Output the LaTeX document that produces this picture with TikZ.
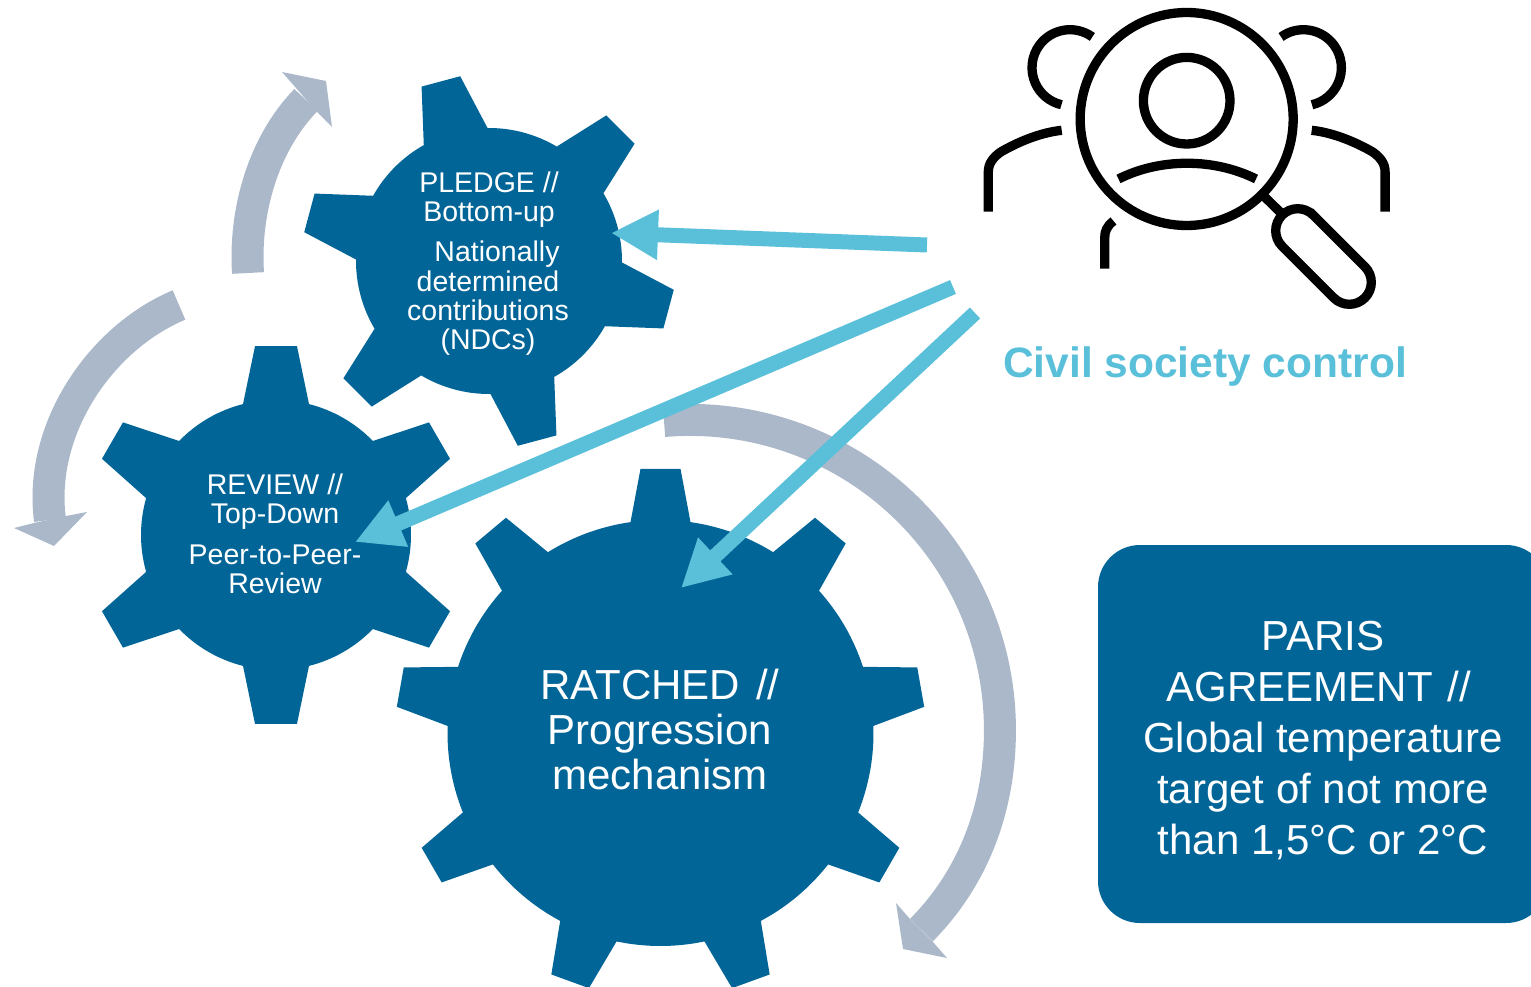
\documentclass[tikz,border=0pt]{standalone}
\usepackage{fontspec}
\setmainfont{Liberation Sans}
\usetikzlibrary{arrows.meta}
\definecolor{gearblue}{HTML}{026597}
\definecolor{arcgrey}{HTML}{ABB8C9}
\definecolor{lightblue}{HTML}{5AC0DA}
\tikzset{
	gearfill/.style={fill=gearblue},
	geartext/.style={text=white, align=center, inner sep=0pt, font=\fontsize{28.5}{29}\selectfont},
	ratchedtext/.style={text=white, align=center, inner sep=0pt, font=\fontsize{42}{45}\selectfont},
	greyband/.style={draw=arcgrey, line width=32pt},
	greyhead/.style={fill=arcgrey},
	bluearrow/.style={draw=lightblue, line width=15pt, -{Triangle[length=47pt,width=47pt,fill=lightblue]}},
	iconline/.style={draw=black, line width=9.3pt}
}
% #1,#2 centre, #3 body radius, #4 tip radius, #5 teeth, #6 first tooth, #7 base half, #8 tip half
\newcommand{\gearwheel}[8]{
	\pgfmathsetmacro{\baseang}{asin(#7/#3)}
	\pgfmathsetmacro{\tipang}{asin(#8/#4)}
	\pgfmathsetmacro{\gearstep}{360/#5}
	\pgfmathtruncatemacro{\lastk}{#5-1}
	\begin{scope}[shift={(#1,-#2)}]
		\fill[gearfill] ({#6+\baseang}:#3) \foreach \k [evaluate=\k as \a using #6-\k*\gearstep] in {0,...,\lastk} {
			-- ({\a+\baseang}:#3) -- ({\a+\tipang}:#4) -- ({\a-\tipang}:#4) -- ({\a-\baseang}:#3)
			arc[start angle=\a-\baseang, end angle=\a-\gearstep+\baseang, radius=#3pt]
		} -- cycle;
	\end{scope}
}
\begin{document}
\begin{tikzpicture}[x=1pt,y=1pt]
	\useasboundingbox (0,0) rectangle (1531,-987);
	\clip (0,0) rectangle (1531,-987);

	\gearwheel{489}{261}{133}{187}{6}{105}{33}{20}
	\gearwheel{276}{535}{135}{190}{6}{90}{33}{21}
	\gearwheel{660.5}{733}{213}{265}{9}{90}{30}{20}

	\draw[greyband] (248,-273) .. controls (244,-210) and (264,-143) .. (306,-100);
	\fill[greyhead] (282,-72) -- (326,-81) -- (332,-127) -- (317,-112) -- (296,-88) -- cycle;
	\draw[greyband] (179,-305) .. controls (100,-338) and (38,-430) .. (50,-520);
	\fill[greyhead] (14,-528) -- (54,-546) -- (87,-512) -- (66,-516) -- (34,-523) -- cycle;
	\draw[greyband] (664,-421) arc[start angle=94.8, end angle=0, radius=310pt] .. controls (1000,-810) and (972,-879) .. (921.5,-930);
	\fill[greyhead] (896,-903) -- (903,-949) -- (947,-958) -- (933,-942) -- (910,-919) -- cycle;

	\node[geartext] (pledge) at (489,-199.5) {PLEDGE //\\Bottom-up};
	\node[geartext] (nationally) at (497,-254) {Nationally};
	\node[geartext] (ndc) at (488,-313) {determined\\contributions\\(NDCs)};
	\node[geartext] (review) at (275,-501.5) {REVIEW\hspace{8pt}//\\Top-Down};
	\node[geartext] (peer) at (275,-569) {Peer-to-Peer-\\Review};
	\node[ratchedtext] (ratched) at (660,-729) {RATCHED\hspace{16pt}//\\Progression\\mechanism};

	\node[fill=gearblue, rounded corners=42pt, minimum width=450pt, minimum height=378pt, inner sep=0pt] (paris) at (1323,-734) {};
	\node[text=white, align=center, inner sep=0pt, font=\fontsize{42}{51}\selectfont] (paristext) at (1323,-741)
		{PARIS\\AGREEMENT\hspace{15pt}//\hspace*{8pt}\mbox{}\\Global temperature\\target of not more\\than 1,5°C or 2°C};

	\node[text=lightblue, inner sep=0pt, font=\fontsize{42.5}{46}\selectfont\bfseries] (civil) at (1205,-367) {Civil society control};

	\coordinate (pledgetail) at (927,-245);
	\coordinate (pledgetip) at (611,-233);
	\coordinate (reviewtail) at (953,-287);
	\coordinate (reviewtip) at (355,-542);
	\coordinate (ratchedtail) at (975,-313);
	\coordinate (ratchedtip) at (681,-588);
	\draw[bluearrow] (pledgetail) -- (pledgetip);
	\draw[bluearrow] (reviewtail) -- (reviewtip);
	\draw[bluearrow] (ratchedtail) -- (ratchedtip);

	\draw[iconline] (1186.7,-119) circle (106.5);
	\draw[iconline] (1186.7,-100.7) circle (43.3);
	\draw[iconline] (1118.5,-179) .. controls (1160,-158) and (1214,-158) .. (1256,-179);
	\foreach \m in {1,-1} {
		\begin{scope}[shift={(1186.7,0)},xscale=\m]
			\draw[iconline] (-116.7,-67.7) ++(54:38) arc[start angle=54, end angle=257, radius=38pt];
			\draw[iconline] (-125,-130.3) .. controls (-150,-133) and (-174,-145) .. (-186,-152) .. controls (-193,-157) and (-198.4,-163) .. (-198.4,-172) -- (-198.4,-211.7);
		\end{scope}
	}
	\draw[iconline] (1113.5,-221) .. controls (1107,-226) and (1104.7,-231) .. (1104.7,-238) -- (1104.7,-268.5);
	\draw[iconline] (1262,-194.3) -- (1281,-213);
	\draw[iconline] (1313.26,-215.14) -- (1364.86,-266.74) arc[start angle=45, end angle=-135, radius=22pt] -- (1282.14,-246.26) arc[start angle=225, end angle=45, radius=22pt] -- cycle;
\end{tikzpicture}
\end{document}
